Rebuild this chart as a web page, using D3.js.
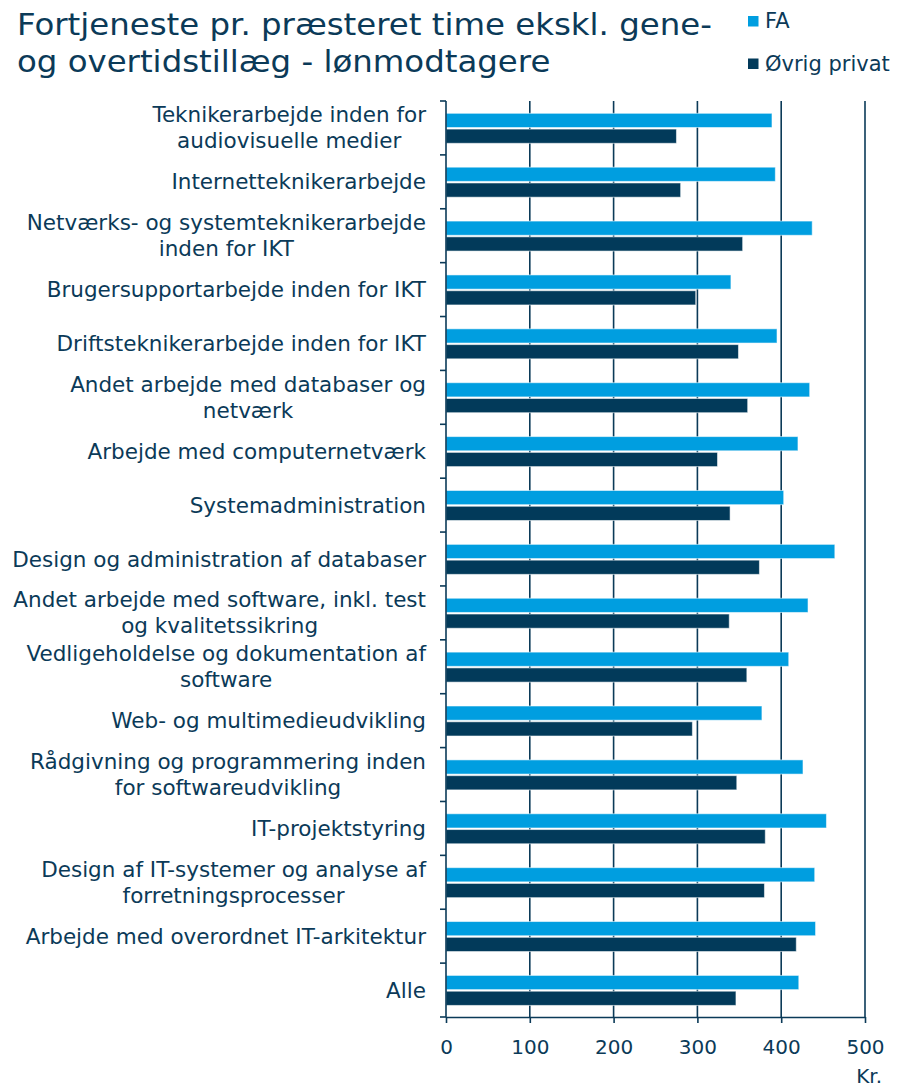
<!DOCTYPE html>
<html>
<head>
<meta charset="utf-8">
<script src="https://cdn.jsdelivr.net/npm/d3@7"></script>
<style>
    body { margin: 0; background: #fff; }
    svg text { font-family: "DejaVu Sans", Verdana, sans-serif; fill: #0b3a58; }
</style>
</head>
<body>
<div class="gv-chart"></div>
<script>
// category labels, split into the lines used in the picture
var categories = [
    ["Teknikerarbejde inden for", "audiovisuelle medier"],
    ["Internetteknikerarbejde"],
    ["Netværks- og systemteknikerarbejde", "inden for IKT"],
    ["Brugersupportarbejde inden for IKT"],
    ["Driftsteknikerarbejde inden for IKT"],
    ["Andet arbejde med databaser og", "netværk"],
    ["Arbejde med computernetværk"],
    ["Systemadministration"],
    ["Design og administration af databaser"],
    ["Andet arbejde med software, inkl. test", "og kvalitetssikring"],
    ["Vedligeholdelse og dokumentation af", "software"],
    ["Web- og multimedieudvikling"],
    ["Rådgivning og programmering inden", "for softwareudvikling"],
    ["IT-projektstyring"],
    ["Design af IT-systemer og analyse af", "forretningsprocesser"],
    ["Arbejde med overordnet IT-arkitektur"],
    ["Alle"]
];

var faValues = [389, 393, 437, 340, 395, 434, 420, 403, 464, 432, 409, 377, 426, 454, 440, 441, 421];
var ovrigValues = [275, 280, 354, 298, 349, 360, 324, 339, 374, 338, 359, 294, 347, 381, 380, 418, 346];

var seriesNames = ["FA", "Øvrig privat"];
var seriesColours = ["#009ee0", "#023a5a"];
var xTicks = [0, 100, 200, 300, 400, 500];

var width = 900, height = 1090;
var axisColour = "#0b3a58";

var svg = d3.select(".gv-chart").append("svg")
    .attr("width", width).attr("height", height);

var x = d3.scaleLinear().domain([0, 500]).range([446, 865]);

var y = d3.scaleBand()
    .domain(d3.range(categories.length))
    .range([101, 1017]);

var ySub = d3.scaleBand()
    .domain(d3.range(seriesNames.length))
    .range([12.3, 42.3])
    .paddingInner(0.1);

// title (Verdana-like width, so stretched a little)
var title = svg.append("text")
    .attr("transform", "translate(17, 0) scale(1.08, 1)")
    .attr("font-size", 30);
title.append("tspan").attr("x", 0).attr("y", 35).text("Fortjeneste pr. præsteret time ekskl. gene-");
title.append("tspan").attr("x", 0).attr("y", 72.5).text("og overtidstillæg - lønmodtagere");

// legend
var legend = svg.append("g").selectAll("g")
    .data(seriesNames)
    .enter()
    .append("g")
    .attr("transform", (d, i) => `translate(748, ${16 + i * 42.5})`);

legend.append("rect")
    .attr("width", 10.5).attr("height", 10.5)
    .attr("fill", (d, i) => seriesColours[i]);

legend.append("text")
    .attr("x", 17).attr("y", 12.3)
    .attr("font-size", 21)
    .text(d => d);

// gridlines
svg.append("g").selectAll("line")
    .data(xTicks.slice(1))
    .enter()
    .append("line")
    .attr("x1", d => x(d)).attr("x2", d => x(d))
    .attr("y1", 101).attr("y2", 1017)
    .attr("stroke", axisColour)
    .attr("stroke-width", 1.6);

// bars
var rows = categories.map((c, i) => [faValues[i], ovrigValues[i]]);

var groups = svg.append("g").selectAll("g")
    .data(rows)
    .enter()
    .append("g")
    .attr("transform", (d, i) => `translate(0, ${y(i)})`);

groups.selectAll("rect")
    .data(d => d)
    .enter()
    .append("rect")
    .attr("x", x(0))
    .attr("y", (d, j) => ySub(j))
    .attr("width", d => x(d) - x(0))
    .attr("height", ySub.bandwidth())
    .attr("fill", (d, j) => seriesColours[j])
    .attr("stroke", "rgba(255,255,255,0.55)")
    .attr("stroke-width", 1);

// y axis line and ticks at band edges
var yEdges = d3.range(categories.length + 1).map(i => i < categories.length ? y(i) : y.range()[1]);

svg.append("line")
    .attr("x1", x(0)).attr("x2", x(0))
    .attr("y1", 101).attr("y2", 1017)
    .attr("stroke", axisColour).attr("stroke-width", 1.6);

svg.append("g").selectAll("line")
    .data(yEdges)
    .enter()
    .append("line")
    .attr("x1", x(0) - 6).attr("x2", x(0))
    .attr("y1", d => d).attr("y2", d => d)
    .attr("stroke", axisColour).attr("stroke-width", 1.6);

// x axis
var xAxis = svg.append("g")
    .attr("transform", "translate(0, 1017)")
    .call(d3.axisBottom(x).tickValues(xTicks).tickSize(6).tickSizeOuter(0));

xAxis.select(".domain").attr("stroke", axisColour).attr("stroke-width", 1.6);
xAxis.selectAll(".tick line").attr("stroke", axisColour).attr("stroke-width", 1.6);
xAxis.selectAll(".tick text")
    .attr("font-size", 20)
    .attr("font-family", "DejaVu Sans, Verdana, sans-serif")
    .attr("fill", axisColour)
    .attr("y", 0)
    .attr("dy", 37);

svg.append("text")
    .attr("x", 882).attr("y", 1083)
    .attr("text-anchor", "end")
    .attr("font-size", 20)
    .text("Kr.");

// category labels: block right-aligned, lines centred within block
var labels = svg.append("g").selectAll("text")
    .data(categories)
    .enter()
    .append("text")
    .attr("font-size", 21.5)
    .attr("text-anchor", "middle");

labels.each(function(lines, i) {
    var t = d3.select(this);
    var mid = y(i) + y.bandwidth() / 2;
    var first = mid + 7.5 - (lines.length - 1) * 13;
    lines.forEach((l, k) => {
        t.append("tspan").attr("y", first + k * 26).text(l);
    });
    var maxW = 0;
    t.selectAll("tspan").each(function() {
        maxW = Math.max(maxW, this.getComputedTextLength());
    });
    t.selectAll("tspan").attr("x", 426 - maxW / 2);
});
</script>
</body>
</html>
